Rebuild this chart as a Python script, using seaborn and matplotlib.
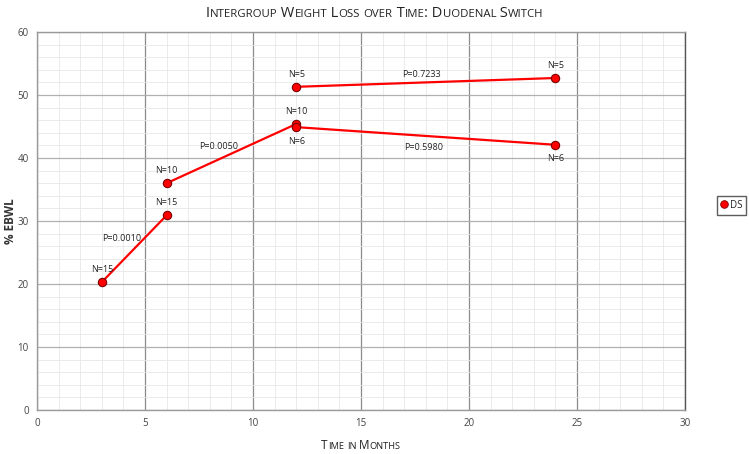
import re
import matplotlib
matplotlib.use("Agg")
import matplotlib.pyplot as plt
from matplotlib.ticker import MultipleLocator
import pandas as pd
import seaborn as sns

# segment data (months, %EBWL)
seg_ids = ["a", "a", "b", "b", "c", "c", "d", "d"]
months = [3, 6, 6, 12, 12, 24, 12, 24]
ebwl = [20.3, 30.9, 36.0, 45.4, 44.9, 42.1, 51.3, 52.7]
n_labels = ["N=15", "N=15", "N=10", "N=10", "N=6", "N=6", "N=5", "N=5"]
n_below = [False, False, False, False, True, True, False, False]
p_labels = ["P=0.0010", "P=0.0050", "P=0.5980", "P=0.7233"]
p_x = [3.9, 8.4, 17.9, 17.8]
p_y = [27.3, 41.9, 41.7, 53.3]

df = pd.DataFrame({"seg": seg_ids, "month": months, "ebwl": ebwl})

sns.set_style("white")
plt.rcParams["font.family"] = ["Open Sans", "DejaVu Sans"]

fig = plt.figure(figsize=(7.49, 4.54), dpi=100)
ax = fig.add_axes([0.0494, 0.0969, 0.8652, 0.8326])

sns.lineplot(data=df, x="month", y="ebwl", units="seg", estimator=None,
             color="#ff0000", lw=1.6, marker="o", markersize=6,
             markerfacecolor="#ff0000", markeredgecolor="#7a0000",
             markeredgewidth=0.8, ax=ax, legend=False)

for x, y, lab, below in zip(months, ebwl, n_labels, n_below):
    ax.annotate(lab, (x, y), xytext=(0, -10 if below else 9),
                textcoords="offset points", ha="center", va="center",
                fontsize=6.5, color="#222222")
for lab, x, y in zip(p_labels, p_x, p_y):
    ax.text(x, y, lab, ha="center", va="center", fontsize=6.5, color="#222222")

ax.set_xlim(0, 30)
ax.set_ylim(0, 60)
ax.xaxis.set_major_locator(MultipleLocator(5))
ax.xaxis.set_minor_locator(MultipleLocator(1))
ax.yaxis.set_major_locator(MultipleLocator(10))
ax.yaxis.set_minor_locator(MultipleLocator(2))
ax.grid(which="minor", color="#e8e8e8", lw=0.6)
ax.grid(which="major", axis="x", color="#8c8c8c", lw=0.9)
ax.grid(which="major", axis="y", color="#b0b0b0", lw=0.9)
ax.set_axisbelow(True)
for s in ax.spines.values():
    s.set_color("#9a9a9a")
    s.set_linewidth(1.0)
ax.spines["right"].set_color("#555555")
ax.tick_params(axis="both", which="both", length=0, labelsize=7, colors="#444444", pad=6)
ax.set_xlabel("")
ax.set_ylabel("% EBWL", fontsize=8.5, fontweight="bold", color="#333333")
ax.yaxis.set_label_coords(-0.031, 0.5)

h = plt.Line2D([], [], ls="none", marker="o", markersize=5.5, color="#ff0000",
               markeredgecolor="#7a0000", markeredgewidth=0.6)
fig.legend([h], ["DS"], loc="center", bbox_to_anchor=(0.977, 0.548),
           fontsize=7, frameon=True, fancybox=False, edgecolor="#333333",
           handlelength=0.6, handletextpad=0.3, borderpad=0.4)


def small_caps(x, y, s, big, color="#222222"):
    # draw text with small caps: lowercase letters as smaller capitals
    parts = re.findall(r"[a-z]+|[^a-z]+", s)
    renderer = fig.canvas.get_renderer()
    texts = []
    for p in parts:
        size = big * 0.78 if p.islower() else big
        t = fig.text(0, y, p.upper(), fontsize=size, color=color, va="baseline")
        texts.append(t)
    widths = [t.get_window_extent(renderer).width for t in texts]
    total = sum(widths)
    cur = x * fig.bbox.width - total / 2
    for t, w in zip(texts, widths):
        t.set_x(cur / fig.bbox.width)
        cur += w


small_caps(0.5, 0.963, "Intergroup Weight Loss over Time: Duodenal Switch", 10.5)
small_caps(0.482, 0.012, "Time in Months", 8.5)

fig.savefig("out.png", dpi=100)
